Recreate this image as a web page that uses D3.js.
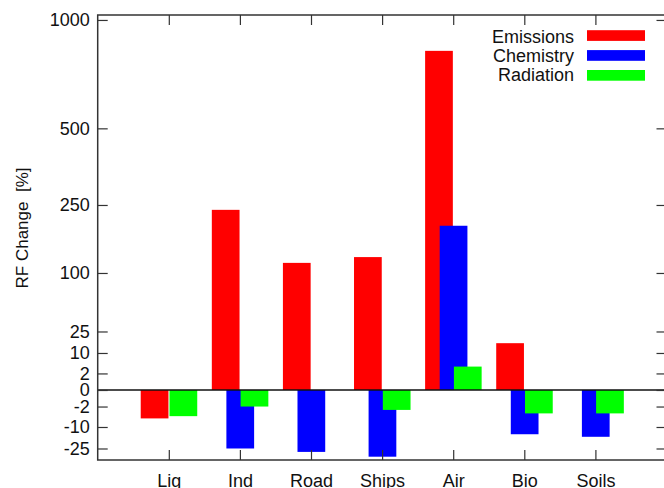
<!DOCTYPE html>
<html>
<head>
<meta charset="utf-8">
<script src="https://cdn.jsdelivr.net/npm/d3@7"></script>
<style>
    body { margin: 0; background: #fff; }
    svg { display: block; font-family: "Liberation Sans", Arial, Helvetica, sans-serif; }
    .tick text { fill: #111; }
    .tick line { stroke: #333; stroke-width: 1.2; }
</style>
</head>
<body>
<div id="chart"></div>
<script>
// Data (RF change in %)
const categories = ["Lig", "Ind", "Road", "Ships", "Air", "Bio", "Soils"];
const seriesNames = ["Emissions", "Chemistry", "Radiation"];
const emissions = [-5.9, 237, 118, 129, 840, 16, null];
const chemistry = [null, -25, -28, -32.5, 197, -14.3, -16];
const radiation = [-5, -2, null, -2.9, 4, -4, -4];
const yTicks = [1000, 500, 250, 100, 25, 10, 2, 0, -2, -10, -25];

const width = 664, height = 488;
const plot = { left: 97.7, right: 666.5, top: 15, bottom: 460 };

const svg = d3.select("#chart")
    .append("svg")
        .attr("width", width)
        .attr("height", height);

// Scales: signed square-root y axis, one slot per category
const x = d3.scaleLinear()
    .domain([0, categories.length + 1])
    .range([plot.left, plot.right]);
const y = d3.scalePow().exponent(0.5)
    .domain([-35.8, 1027])
    .range([plot.bottom, plot.top]);
const color = d3.scaleOrdinal()
    .domain(seriesNames)
    .range(["#ff0000", "#0000ff", "#00ff00"]);
const offset = d3.scaleOrdinal()
    .domain(seriesNames)
    .range([-0.395, -0.19, 0.01]);
const barW = x(0.39) - x(0);

// Bars (red first, then blue, then green on top)
const series = [emissions, chemistry, radiation];
series.forEach((values, s) => {
    const name = seriesNames[s];
    svg.append("g")
        .selectAll("rect")
        .data(values.map((v, i) => ({ v, i })).filter(d => d.v !== null))
        .enter()
        .append("rect")
            .attr("x", d => x(d.i + 1 + offset(name)))
            .attr("width", barW)
            .attr("y", d => Math.min(y(d.v), y(0)))
            .attr("height", d => Math.abs(y(d.v) - y(0)))
            .attr("fill", color(name));
});

// Zero line
svg.append("line")
    .attr("x1", plot.left).attr("x2", plot.right)
    .attr("y1", y(0)).attr("y2", y(0))
    .attr("stroke", "#111").attr("stroke-width", 1.5);

// Axes with inward ticks
const catTicks = categories.map((c, i) => i + 1);

svg.append("g")
    .attr("transform", `translate(${plot.left},0)`)
    .call(d3.axisLeft(y).tickValues(yTicks).tickFormat(d => String(d)).tickSize(-10).tickPadding(8))
    .call(g => g.select(".domain").remove())
    .selectAll("text").style("font-size", "18px");

svg.append("g")
    .attr("transform", `translate(${plot.right},0)`)
    .call(d3.axisRight(y).tickValues(yTicks).tickFormat("").tickSize(-10))
    .call(g => g.select(".domain").remove());

svg.append("g")
    .attr("transform", `translate(0,${plot.bottom})`)
    .call(d3.axisBottom(x).tickValues(catTicks).tickFormat(i => categories[i - 1]).tickSize(-10).tickPadding(14))
    .call(g => g.select(".domain").remove())
    .selectAll("text").style("font-size", "18px");

svg.append("g")
    .attr("transform", `translate(0,${plot.top})`)
    .call(d3.axisTop(x).tickValues(catTicks).tickFormat("").tickSize(-10))
    .call(g => g.select(".domain").remove());

// Frame
svg.append("rect")
    .attr("x", plot.left).attr("y", plot.top)
    .attr("width", plot.right - plot.left)
    .attr("height", plot.bottom - plot.top)
    .attr("fill", "none")
    .attr("stroke", "#333")
    .attr("stroke-width", 1.5);

// Y axis title
svg.append("text")
    .attr("transform", "translate(28,228) rotate(-90)")
    .attr("text-anchor", "middle")
    .style("font-size", "17px")
    .style("white-space", "pre")
    .attr("fill", "#111")
    .text("RF Change  [%]");

// Legend
const legend = svg.append("g").attr("id", "legend");
legend.selectAll("text")
    .data(seriesNames)
    .enter()
    .append("text")
        .attr("x", 574)
        .attr("y", (d, i) => 42.7 + i * 19)
        .attr("text-anchor", "end")
        .style("font-size", "18px")
        .attr("fill", "#111")
        .text(d => d);
legend.selectAll("rect")
    .data(seriesNames)
    .enter()
    .append("rect")
        .attr("x", 587)
        .attr("y", (d, i) => 30.2 + i * 19.9)
        .attr("width", 58)
        .attr("height", 10.7)
        .attr("fill", d => color(d));
</script>
</body>
</html>
